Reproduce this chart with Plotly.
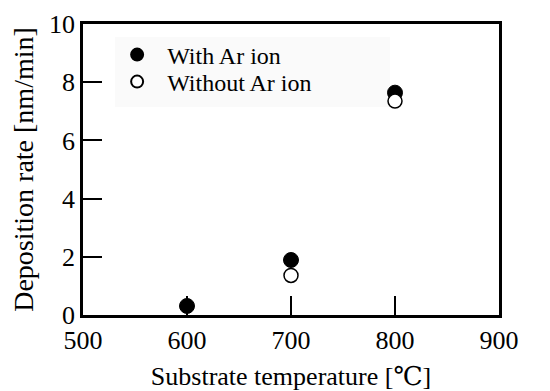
import plotly.graph_objects as go

temperature = [600, 700, 800]
rate_with_ar = [0.31, 1.89, 7.64]
rate_without_ar = [None, 1.36, 7.35]
x_ticks = [500, 600, 700, 800, 900]
y_ticks = [0, 2, 4, 6, 8, 10]

FONT = "Liberation Serif, Times New Roman, DejaVu Serif, serif"

fig = go.Figure()
fig.add_trace(go.Scatter(
    x=temperature, y=rate_with_ar, mode="markers", name="With Ar ion",
    legend="legend",
    marker=dict(symbol="circle", size=15, color="black", line=dict(color="black", width=1)),
))
fig.add_trace(go.Scatter(
    x=temperature, y=rate_without_ar, mode="markers", name="Without Ar ion",
    legend="legend2",
    marker=dict(symbol="circle", size=14, color="white", line=dict(color="black", width=1.5)),
))

axis_common = dict(
    showline=True, linecolor="black", linewidth=2.5, mirror=True,
    ticks="inside", ticklen=19, tickwidth=2, tickcolor="black",
    showgrid=False, zeroline=False, layer="below traces", automargin=False,
    tickfont=dict(family=FONT, size=26, color="black"),
)

legend_common = dict(
    xanchor="left", yanchor="middle",
    bgcolor="rgba(0,0,0,0)", borderwidth=0,
    font=dict(family=FONT, size=24, color="black"),
    itemsizing="constant", itemwidth=50,
)

fig.update_layout(
    width=542, height=383,
    margin=dict(l=75, r=51, t=16, b=76),
    paper_bgcolor="white", plot_bgcolor="white",
    font=dict(family=FONT, color="black"),
    showlegend=True,
    legend=dict(x=0.058, y=0.8935, **legend_common),
    legend2=dict(x=0.058, y=0.8007, **legend_common),
    shapes=[dict(
        type="rect", xref="paper", yref="paper",
        x0=0.077, x1=0.738, y0=0.715, y1=0.955,
        fillcolor="#fafafa", line=dict(width=0), layer="below",
    )],
    xaxis=dict(
        range=[500, 900], tickvals=x_ticks, ticktext=[str(v) for v in x_ticks],
        title=dict(text="Substrate temperature [℃]", font=dict(family=FONT, size=26, color="black")),
        **axis_common,
    ),
    yaxis=dict(
        range=[0, 10], tickvals=y_ticks, ticktext=[str(v) for v in y_ticks],
        title=dict(text="Deposition rate [nm/min]", font=dict(family=FONT, size=28, color="black")),
        **axis_common,
    ),
)

fig.write_html("out.html")
